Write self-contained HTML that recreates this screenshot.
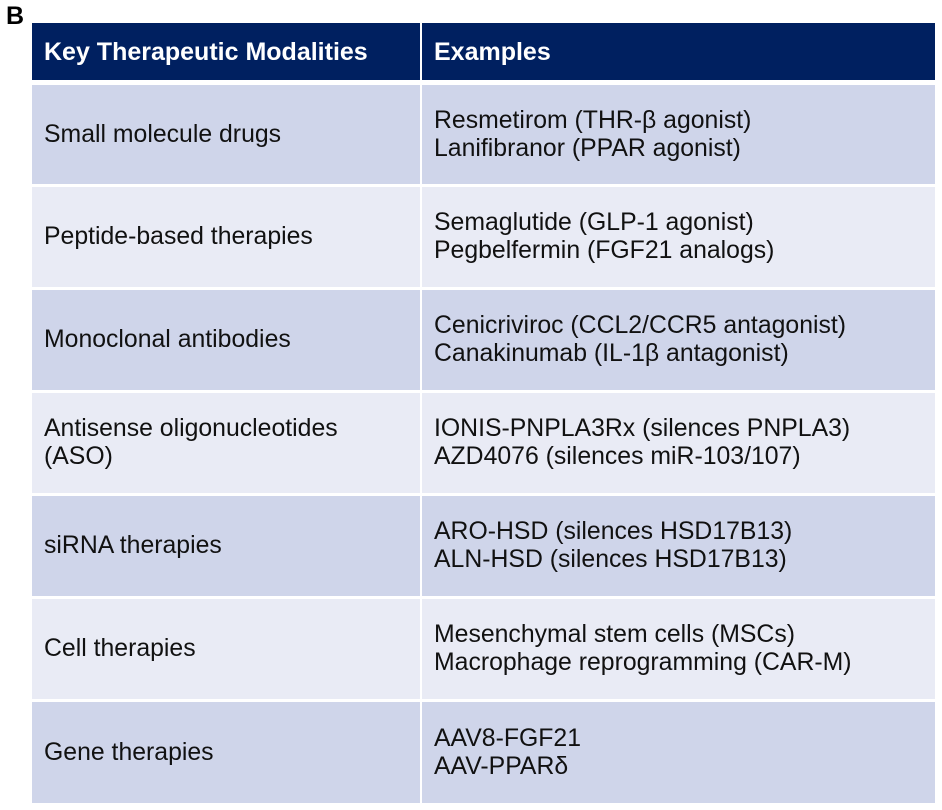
<!DOCTYPE html>
<html><head><meta charset="utf-8"><style>
body{margin:0;width:942px;height:810px;background:#fff;position:relative;overflow:hidden;font-family:"Liberation Sans","DejaVu Sans",sans-serif}
.c{position:absolute;box-sizing:border-box;padding-left:12px;display:flex;flex-direction:column;justify-content:center;font-size:24.8px;color:#111;line-height:28px;white-space:nowrap}
.h{background:#002060;color:#fff;font-weight:bold;font-size:25px}
.o{background:#cfd5ea}.e{background:#e9ebf5}
</style></head><body>
<div style="position:absolute;left:6px;top:2px;font-weight:bold;font-size:25px">B</div>
<div class="c h" style="left:32px;top:23px;width:388px;height:57px">Key Therapeutic Modalities</div>
<div class="c h" style="left:422px;top:23px;width:513px;height:57px">Examples</div>

<div class="c o" style="left:32px;top:85px;width:388px;height:99px">Small molecule drugs</div>
<div class="c o" style="left:422px;top:85px;width:513px;height:99px">Resmetirom (THR-β agonist)<br>Lanifibranor (PPAR agonist)</div>

<div class="c e" style="left:32px;top:187px;width:388px;height:100px">Peptide-based therapies</div>
<div class="c e" style="left:422px;top:187px;width:513px;height:100px">Semaglutide (GLP-1 agonist)<br>Pegbelfermin (FGF21 analogs)</div>

<div class="c o" style="left:32px;top:290px;width:388px;height:100px">Monoclonal antibodies</div>
<div class="c o" style="left:422px;top:290px;width:513px;height:100px">Cenicriviroc (CCL2/CCR5 antagonist)<br>Canakinumab (IL-1β antagonist)</div>

<div class="c e" style="left:32px;top:393px;width:388px;height:100px">Antisense oligonucleotides<br>(ASO)</div>
<div class="c e" style="left:422px;top:393px;width:513px;height:100px">IONIS-PNPLA3Rx (silences PNPLA3)<br>AZD4076 (silences miR-103/107)</div>

<div class="c o" style="left:32px;top:496px;width:388px;height:100px">siRNA therapies</div>
<div class="c o" style="left:422px;top:496px;width:513px;height:100px">ARO-HSD (silences HSD17B13)<br>ALN-HSD (silences HSD17B13)</div>

<div class="c e" style="left:32px;top:599px;width:388px;height:100px">Cell therapies</div>
<div class="c e" style="left:422px;top:599px;width:513px;height:100px">Mesenchymal stem cells (MSCs)<br>Macrophage reprogramming (CAR-M)</div>

<div class="c o" style="left:32px;top:702px;width:388px;height:101px">Gene therapies</div>
<div class="c o" style="left:422px;top:702px;width:513px;height:101px">AAV8-FGF21<br>AAV-PPARδ</div>
</body></html>
